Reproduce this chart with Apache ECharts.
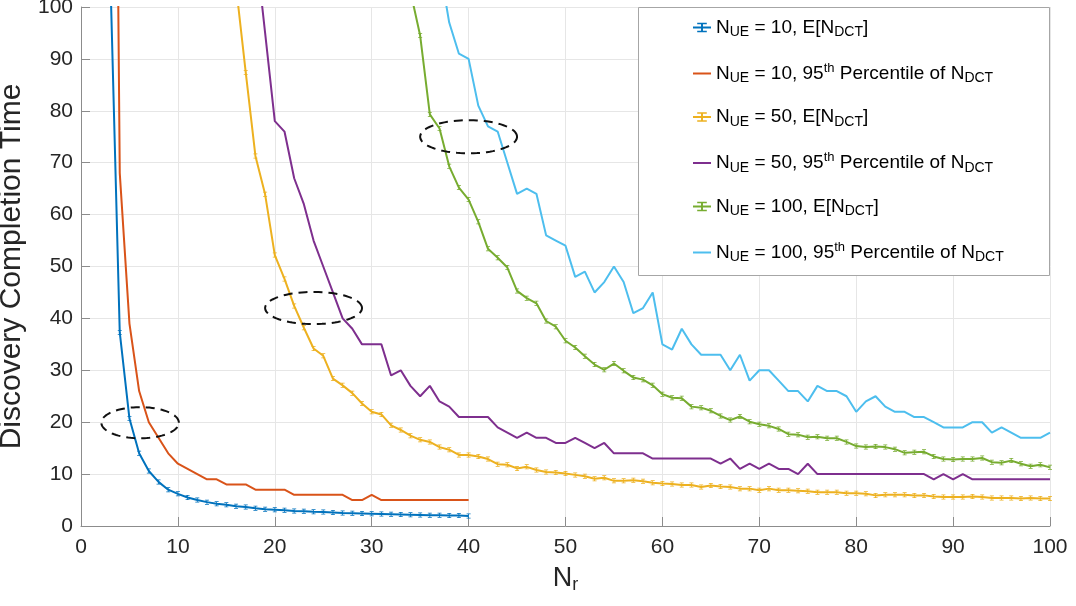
<!DOCTYPE html>
<html>
<head>
<meta charset="utf-8">
<script src="https://cdn.jsdelivr.net/npm/echarts/dist/echarts.min.js"></script>
<style>
  html, body { margin: 0; padding: 0; background: #fff; }
  #main { width: 1076px; height: 606px; }
</style>
</head>
<body>
<div id="main"></div>
<script>
// first N_r value of each curve, the rest follow one by one
var start10E = 3, start10P = 3, start50E = 16, start50P = 18, start100E = 34, start100P = 37;

var ue10Mean = [108, 37.3, 20.7, 14.0, 10.6, 8.5, 7.0, 6.2, 5.5, 5.0,
    4.6, 4.3, 4.1, 3.8, 3.65, 3.4, 3.25, 3.15, 3.05, 2.9,
    2.85, 2.75, 2.7, 2.6, 2.5, 2.45, 2.4, 2.35, 2.3, 2.25,
    2.2, 2.15, 2.1, 2.05, 2.05, 2.0, 2.0, 1.95];
var ue10P95 = [280, 68, 39, 26, 20, 17, 14, 12, 11, 10,
    9, 9, 8, 8, 8, 7, 7, 7, 7, 6,
    6, 6, 6, 6, 6, 5, 5, 6, 5, 5,
    5, 5, 5, 5, 5, 5, 5, 5];
var ue50Mean = [104, 87.4, 71.3, 63.9, 52.2, 47.6, 42.4, 38.2, 34.2, 32.8,
    28.4, 27.1, 25.6, 23.6, 22.0, 21.5, 19.4, 18.5, 17.4, 16.6,
    16.2, 15.2, 14.7, 13.7, 13.7, 13.4, 12.9, 11.9, 11.8, 11.1,
    11.4, 10.8, 10.4, 10.3, 10.1, 9.85, 9.6, 9.1, 9.3, 8.7,
    8.7, 8.8, 8.6, 8.35, 8.2, 8.1, 7.9, 7.9, 7.5, 7.8,
    7.6, 7.5, 7.2, 7.2, 6.9, 7.2, 6.9, 6.9, 6.8, 6.7,
    6.5, 6.5, 6.5, 6.3, 6.3, 6.2, 5.9, 6.0, 6.0, 6.0,
    5.9, 5.9, 5.7, 5.6, 5.6, 5.6, 5.7, 5.6, 5.4, 5.4,
    5.4, 5.3, 5.4, 5.3, 5.3];
var ue50P95 = [112, 95, 78, 76, 67, 62, 55, 50, 45, 40,
    38, 35, 35, 35, 29, 30, 27, 25, 27, 24,
    23, 21, 21, 21, 21, 19, 18, 17, 18, 17,
    17, 16, 16, 17, 16, 15, 16, 14, 14, 14,
    14, 13, 13, 13, 13, 13, 13, 13, 12, 13,
    11, 12, 11, 12, 11, 11, 10, 12, 10, 10,
    10, 10, 10, 10, 10, 10, 10, 10, 10, 10,
    9, 10, 9, 10, 9, 9, 9, 9, 9, 9,
    9, 9, 9];
var ue100Mean = [103, 94.5, 79.3, 76.6, 69.3, 65.2, 62.9, 58.6, 53.4, 51.7,
    49.8, 45.3, 43.9, 42.9, 39.5, 38.4, 35.7, 34.4, 32.7, 31.1,
    30.1, 31.3, 29.9, 28.6, 28.2, 27.1, 25.4, 24.7, 24.6, 23.0,
    22.8, 22.2, 21.2, 20.4, 21.1, 20.1, 19.6, 19.3, 18.7, 17.7,
    17.6, 17.1, 17.2, 16.9, 16.9, 16.2, 15.4, 15.2, 15.3, 15.2,
    14.8, 14.1, 14.2, 14.3, 13.4, 12.9, 12.8, 12.9, 12.9, 13.1,
    12.3, 12.2, 12.6, 12.0, 11.5, 11.8, 11.3];
var ue100P95 = [108, 97, 91, 90, 81, 77, 76, 70, 64, 65,
    64, 56, 55, 54, 48, 49, 45, 47, 50, 47,
    41, 42, 45, 35, 34, 38, 35, 33, 33, 33,
    30, 33, 28, 30, 30, 28, 26, 26, 24, 27,
    26, 26, 25, 22, 24, 25, 23, 22, 22, 21,
    21, 20, 19, 19, 19, 20, 20, 18, 19, 18,
    17, 17, 17, 18];

// dashed ellipses: centre N_r, centre time, half width, half height
var ellipses = [
    [6.1, 19.9, 4.0, 3.0],
    [24, 42, 5, 3.1],
    [40, 75, 5, 3.2]
];

var seriesNames = [
    'N_{UE} = 10, E[N_{DCT}]',
    'N_{UE} = 10, 95^{th} Percentile of N_{DCT}',
    'N_{UE} = 50, E[N_{DCT}]',
    'N_{UE} = 50, 95^{th} Percentile of N_{DCT}',
    'N_{UE} = 100, E[N_{DCT}]',
    'N_{UE} = 100, 95^{th} Percentile of N_{DCT}'
];
var colors = ['#0072BD', '#D95319', '#EDB120', '#7E2F8E', '#77AC30', '#4DBEEE'];

var font = "'Liberation Sans', Arial, sans-serif";
var errBar = 'path://M0,0H6V1.2H3.6V6.8H6V8H0V6.8H2.4V1.2H0Z';
var plainLine = 'path://M0,0H18V2H0Z';

function pairs(x0, vals) {
    return vals.map(function (v, i) { return [x0 + i, v]; });
}

function toRich(name) {
    return '{t|' + name.replace(/_\{(.*?)\}/g, '}{sub|$1}{t|')
        .replace(/\^\{(.*?)\}/g, '}{sup|$1}{t|') + '}';
}

function makeLine(idx, x0, vals, withBars) {
    return {
        name: seriesNames[idx],
        type: 'line',
        data: pairs(x0, vals),
        color: colors[idx],
        lineStyle: { width: 2 },
        symbol: withBars ? errBar : 'none',
        symbolSize: [4, 5],
        showSymbol: withBars,
        z: 3
    };
}

var chartDom = document.getElementById('main');
var myChart = echarts.init(chartDom);
var option;

option = {
    animation: false,
    textStyle: { fontFamily: font },
    grid: { left: 81, right: 26, top: 7, bottom: 80, outerBoundsMode: 'none', containLabel: false },
    graphic: [{
        type: 'rect',
        left: 638, top: 7, z: 3,
        shape: { width: 411, height: 268 },
        style: { fill: '#fff', stroke: '#a6a6a6', lineWidth: 1 }
    }],
    legend: {
        data: seriesNames.map(function (n, i) {
            return i % 2 ? { name: n, icon: plainLine } : { name: n };
        }),
        orient: 'vertical',
        left: 692, top: 18,
        padding: 0,
        itemGap: 22,
        itemWidth: 18, itemHeight: 12,
        selectedMode: false,
        z: 5,
        formatter: toRich,
        textStyle: {
            rich: {
                t: { fontFamily: font, fontSize: 19, color: '#000', lineHeight: 24 },
                sub: { fontFamily: font, fontSize: 14, color: '#000', verticalAlign: 'bottom', lineHeight: 14 },
                sup: { fontFamily: font, fontSize: 13, color: '#000', verticalAlign: 'top', lineHeight: 13 }
            }
        }
    },
    xAxis: {
        type: 'value',
        min: 0, max: 100, interval: 10,
        name: '{n|N}{s|r}',
        nameLocation: 'middle',
        nameGap: 38,
        nameTextStyle: {
            rich: {
                n: { fontFamily: font, fontSize: 27, color: '#262626', lineHeight: 30 },
                s: { fontFamily: font, fontSize: 18, color: '#262626', verticalAlign: 'bottom', lineHeight: 18 }
            }
        },
        axisLine: { onZero: false, lineStyle: { color: '#8c8c8c', width: 1 } },
        axisTick: { inside: true, length: 9, lineStyle: { color: '#8c8c8c' } },
        axisLabel: { fontSize: 21, color: '#262626', margin: 11 },
        splitLine: { lineStyle: { color: '#e6e6e6' } }
    },
    yAxis: {
        type: 'value',
        min: 0, max: 100, interval: 10,
        name: 'Discovery Completion Time',
        nameLocation: 'middle',
        nameGap: 48,
        nameTextStyle: { fontSize: 30, color: '#262626', fontFamily: font },
        axisLine: { show: true, onZero: false, lineStyle: { color: '#8c8c8c', width: 1 } },
        axisTick: { show: true, inside: true, length: 9, lineStyle: { color: '#8c8c8c' } },
        axisLabel: { fontSize: 21, color: '#262626', margin: 8 },
        splitLine: { lineStyle: { color: '#e6e6e6' } }
    },
    series: [
        makeLine(0, start10E, ue10Mean, true),
        makeLine(1, start10P, ue10P95, false),
        makeLine(2, start50E, ue50Mean, true),
        makeLine(3, start50P, ue50P95, false),
        makeLine(4, start100E, ue100Mean, true),
        makeLine(5, start100P, ue100P95, false),
        {
            type: 'custom',
            silent: true,
            z: 4,
            data: ellipses,
            encode: { x: 0, y: 1 },
            renderItem: function (params, api) {
                var cx = api.value(0), cy = api.value(1), rx = api.value(2), ry = api.value(3);
                var pts = [];
                for (var k = 0; k < 90; k++) {
                    var a = 2 * Math.PI * k / 90;
                    pts.push(api.coord([cx + rx * Math.cos(a), cy + ry * Math.sin(a)]));
                }
                return {
                    type: 'polygon',
                    shape: { points: pts },
                    style: { fill: 'none', stroke: '#111', lineWidth: 2, lineDash: [9, 6] }
                };
            }
        }
    ]
};

option && myChart.setOption(option);
</script>
</body>
</html>
